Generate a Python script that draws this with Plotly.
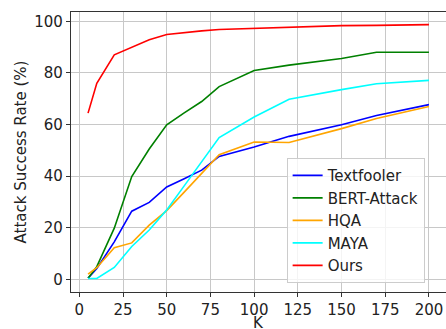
import plotly.graph_objects as go

K = [5, 10, 20, 30, 40, 50, 60, 70, 80, 100, 120, 150, 170, 200]
textfooler = [0.4, 4.2, 14.5, 26.4, 29.8, 35.8, 39.0, 42.3, 47.6, 51.3, 55.4, 59.9, 63.5, 67.7]
bert_attack = [0.4, 4.9, 19.8, 39.8, 50.5, 59.9, 64.5, 68.9, 74.7, 80.9, 83.0, 85.6, 88.0, 88.0]
hqa = [2.0, 4.5, 12.2, 14.1, 21.0, 26.6, 33.8, 41.0, 48.3, 53.2, 53.0, 58.4, 62.3, 67.0]
maya = [0.3, 0.3, 4.6, 12.7, 19.1, 26.9, 36.2, 45.6, 54.9, 62.9, 69.8, 73.5, 75.8, 77.1]
ours = [64.4, 76.0, 87.0, 90.0, 92.8, 94.9, 95.7, 96.3, 96.8, 97.3, 97.7, 98.3, 98.4, 98.7]

series = [
    ("Textfooler", textfooler, "#0000ff"),
    ("BERT-Attack", bert_attack, "#008000"),
    ("HQA", hqa, "#ffa500"),
    ("MAYA", maya, "#00ffff"),
    ("Ours", ours, "#ff0000"),
]

fig = go.Figure()
for name, vals, color in series:
    fig.add_trace(go.Scatter(x=K, y=vals, mode="lines", name=name,
                             line=dict(color=color, width=1.6)))

axis_common = dict(
    showline=True, linecolor="#333333", linewidth=1.2, mirror=True,
    ticks="outside", ticklen=4, tickcolor="#333333",
    showgrid=True, gridcolor="#c8c8c8", gridwidth=1, zeroline=False,
    tickfont=dict(size=15, color="#222222"), automargin=False,
    ticklabeloverflow="allow",
)

fig.update_layout(
    width=446, height=329,
    margin=dict(l=71, r=0, t=12, b=37),
    plot_bgcolor="white", paper_bgcolor="white",
    font=dict(family="DejaVu Sans", size=15, color="#222222"),
    xaxis=dict(range=[-4.75, 209.75], tickvals=[0, 25, 50, 75, 100, 125, 150, 175, 200],
               **axis_common),
    yaxis=dict(range=[-4.93, 103.6], tickvals=[0, 20, 40, 60, 80, 100],
               title=dict(text="Attack Success Rate (%)", standoff=4, font=dict(size=15)),
               **axis_common),
    legend=dict(x=0.575, y=0.478, xanchor="left", yanchor="top",
                bgcolor="rgba(255,255,255,0.8)", bordercolor="#cccccc", borderwidth=1,
                font=dict(size=15), tracegroupgap=0),
    showlegend=True,
    annotations=[dict(text="K", xref="paper", yref="paper", x=0.5, y=-0.11,
                      xanchor="center", yanchor="middle", showarrow=False,
                      borderpad=0, font=dict(size=15, color="#222222"))],
)

fig.write_html("out.html", config={"displayModeBar": False},
               post_script="document.body.style.margin='0';document.body.style.overflow='hidden';")
